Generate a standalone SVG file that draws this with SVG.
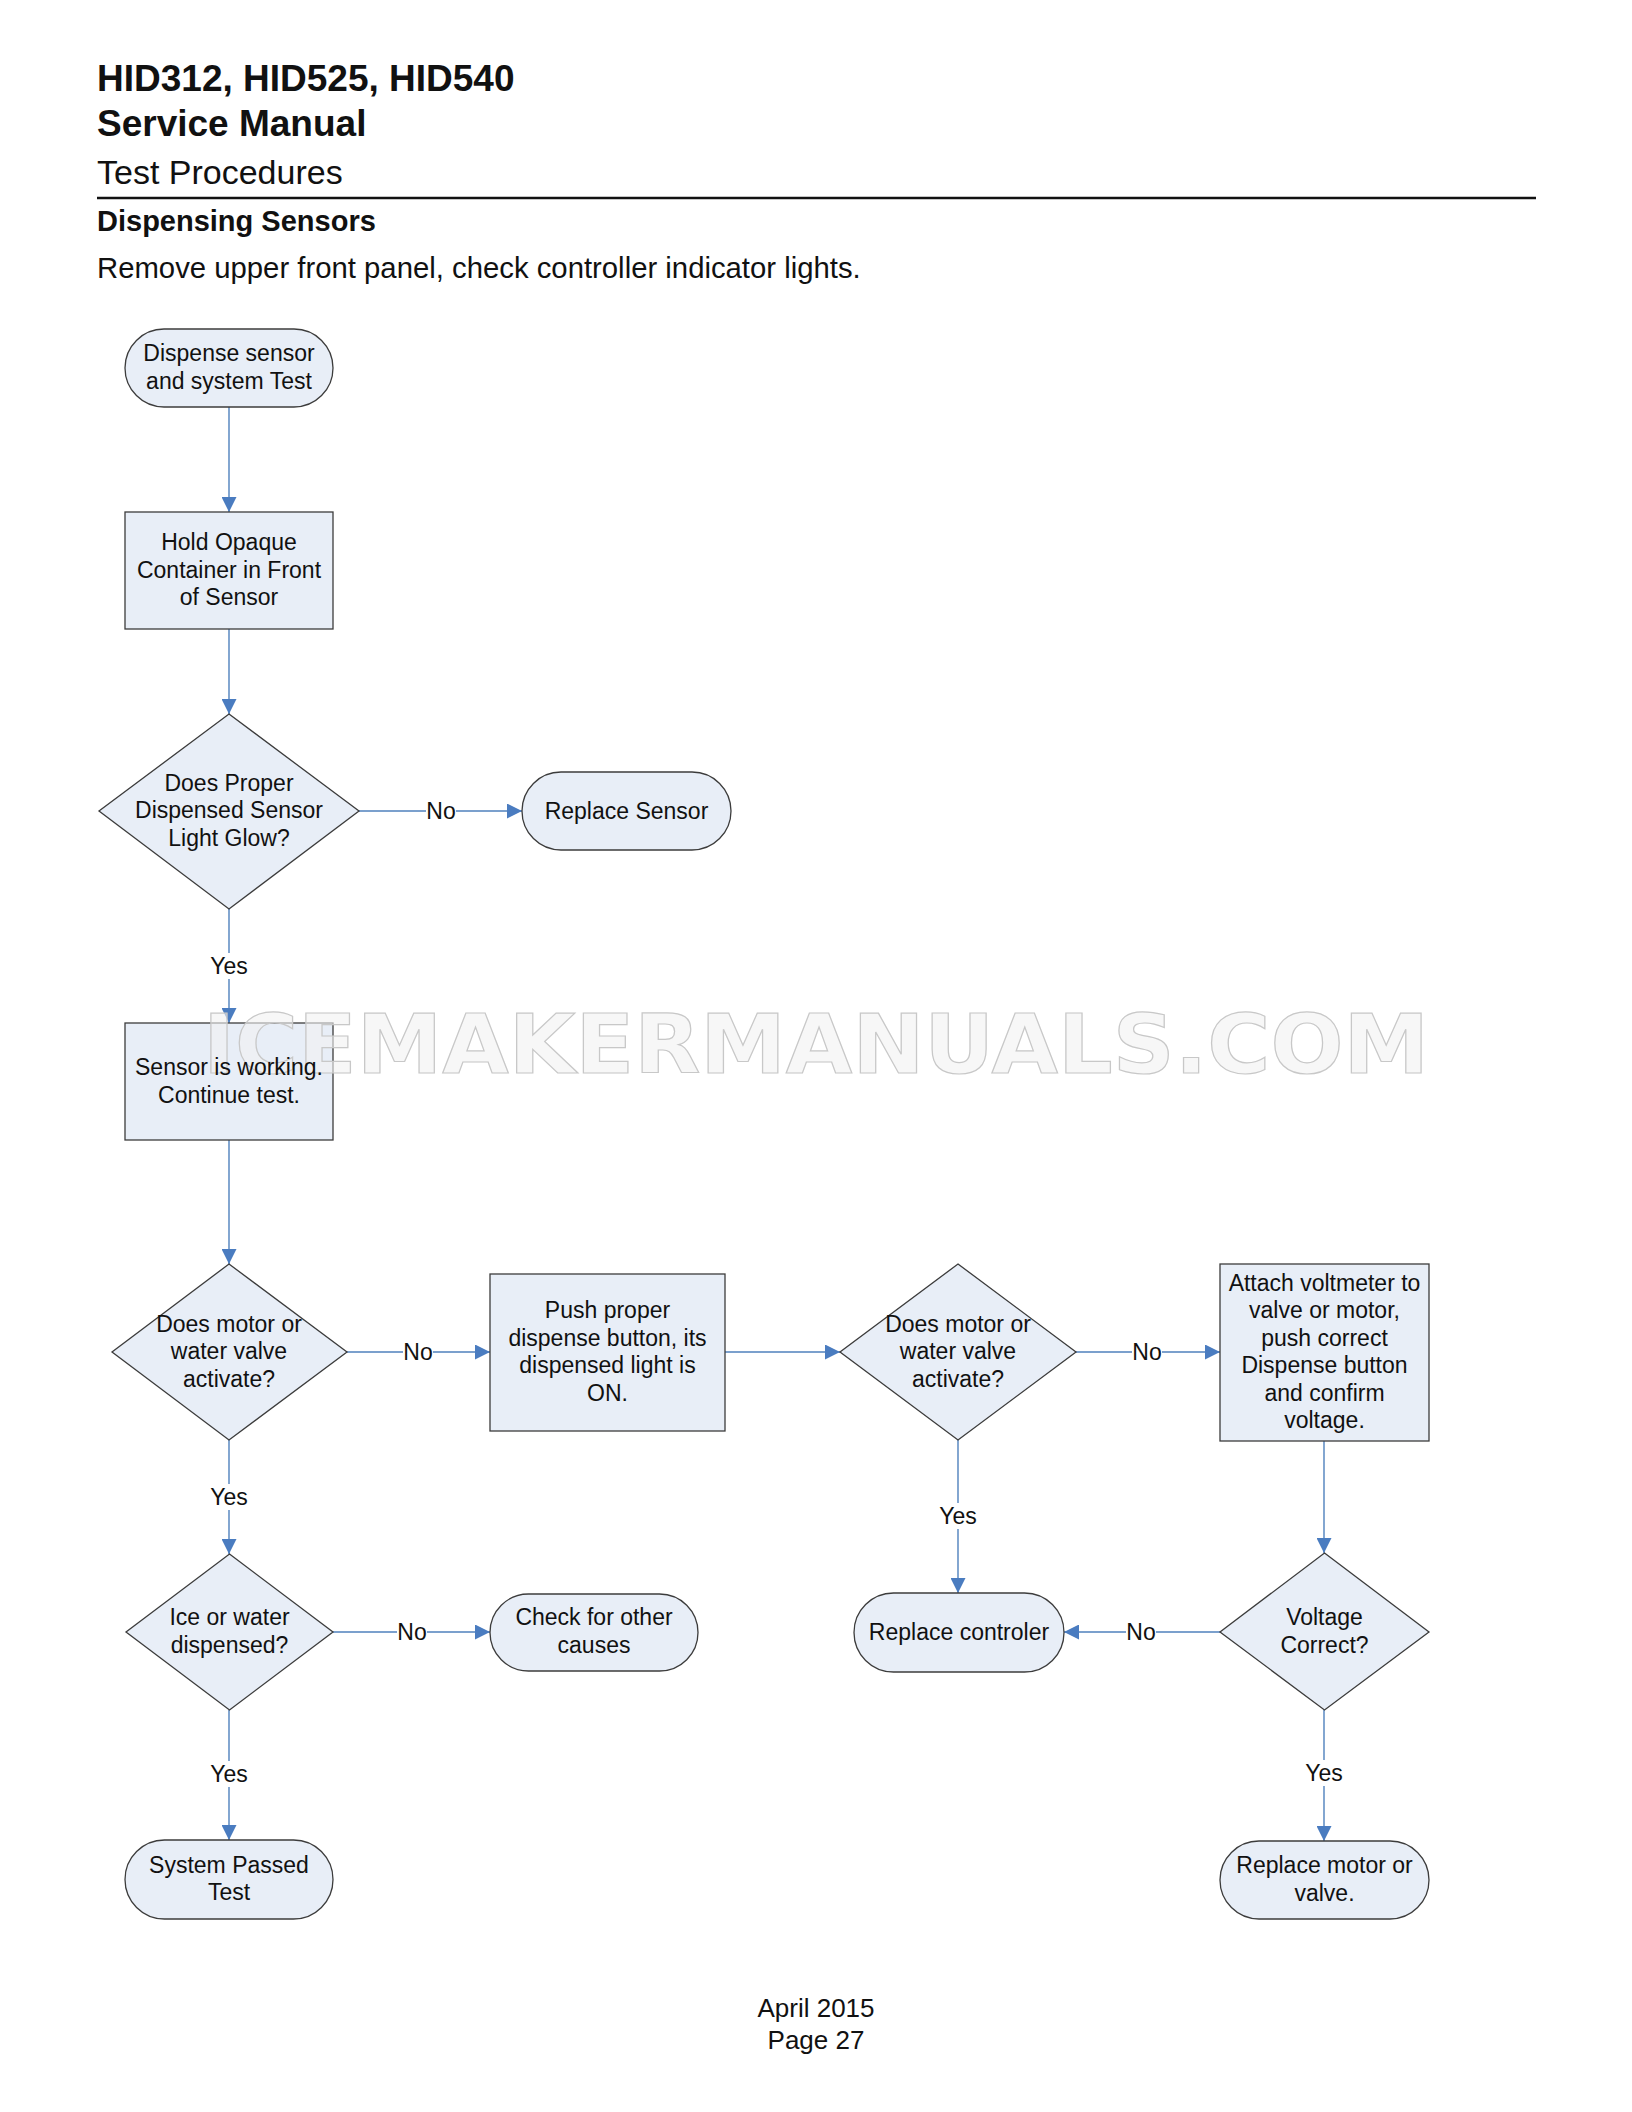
<svg xmlns="http://www.w3.org/2000/svg" width="1632" height="2112" viewBox="0 0 1632 2112">
<style>
.hdr{font-family:"Liberation Sans",Arial,sans-serif;fill:#111}
.b{font-weight:bold}
.node{fill:#e8eef7;stroke:#3c3c3c;stroke-width:1.3}
.t{font-family:"Liberation Sans",Arial,sans-serif;font-size:23px;fill:#111;text-anchor:middle}
.conn{stroke:#4f81bd;stroke-width:1.4;fill:none}
.lblbg{fill:#fff}
</style>
<defs>
<marker id="arr" markerUnits="userSpaceOnUse" markerWidth="16" markerHeight="15" refX="15" refY="7.5" orient="auto">
<path d="M0,0 L15,7.5 L0,15 z" fill="#4a7cc0"/>
</marker>
</defs>
<rect width="1632" height="2112" fill="#fff"/>
<g id="header">
<text class="hdr b" x="97" y="91" font-size="37">HID312, HID525, HID540</text>
<text class="hdr b" x="97" y="136" font-size="37">Service Manual</text>
<text class="hdr" x="97" y="184" font-size="34">Test Procedures</text>
<line x1="97" y1="198" x2="1536" y2="198" stroke="#111" stroke-width="2.5"/>
<text class="hdr b" x="97" y="231" font-size="29">Dispensing Sensors</text>
<text class="hdr" x="97" y="278" font-size="29.3">Remove upper front panel, check controller indicator lights.</text>
</g>
<g id="connectors">
<line class="conn" x1="229" y1="407" x2="229" y2="512" marker-end="url(#arr)"/>
<line class="conn" x1="229" y1="629" x2="229" y2="714" marker-end="url(#arr)"/>
<line class="conn" x1="359" y1="811" x2="522" y2="811" marker-end="url(#arr)"/>
<line class="conn" x1="229" y1="909" x2="229" y2="1023" marker-end="url(#arr)"/>
<line class="conn" x1="229" y1="1140" x2="229" y2="1264" marker-end="url(#arr)"/>
<line class="conn" x1="347" y1="1352" x2="490" y2="1352" marker-end="url(#arr)"/>
<line class="conn" x1="725" y1="1352" x2="840" y2="1352" marker-end="url(#arr)"/>
<line class="conn" x1="1076" y1="1352" x2="1220" y2="1352" marker-end="url(#arr)"/>
<line class="conn" x1="229" y1="1440" x2="229" y2="1554" marker-end="url(#arr)"/>
<line class="conn" x1="958" y1="1440" x2="958" y2="1593" marker-end="url(#arr)"/>
<line class="conn" x1="1324" y1="1441" x2="1324" y2="1553" marker-end="url(#arr)"/>
<line class="conn" x1="333" y1="1632" x2="490" y2="1632" marker-end="url(#arr)"/>
<line class="conn" x1="1220" y1="1632" x2="1064" y2="1632" marker-end="url(#arr)"/>
<line class="conn" x1="229" y1="1710" x2="229" y2="1840" marker-end="url(#arr)"/>
<line class="conn" x1="1324" y1="1710" x2="1324" y2="1841" marker-end="url(#arr)"/>
<g id="labels">
<rect class="lblbg" x="426" y="798" width="30" height="26"/><text class="t" x="441" y="819">No</text>
<rect class="lblbg" x="211" y="953" width="36" height="26"/><text class="t" x="229" y="974">Yes</text>
<rect class="lblbg" x="403" y="1339" width="30" height="26"/><text class="t" x="418" y="1360">No</text>
<rect class="lblbg" x="1132" y="1339" width="30" height="26"/><text class="t" x="1147" y="1360">No</text>
<rect class="lblbg" x="211" y="1484" width="36" height="26"/><text class="t" x="229" y="1505">Yes</text>
<rect class="lblbg" x="940" y="1503" width="36" height="26"/><text class="t" x="958" y="1524">Yes</text>
<rect class="lblbg" x="397" y="1619" width="30" height="26"/><text class="t" x="412" y="1640">No</text>
<rect class="lblbg" x="1126" y="1619" width="30" height="26"/><text class="t" x="1141" y="1640">No</text>
<rect class="lblbg" x="211" y="1761" width="36" height="26"/><text class="t" x="229" y="1782">Yes</text>
<rect class="lblbg" x="1306" y="1760" width="36" height="26"/><text class="t" x="1324" y="1781">Yes</text>
</g>
</g>
<g id="start">
<rect class="node" x="125" y="329" width="208" height="78" rx="39"/>
<text class="t" x="229" y="361">Dispense sensor</text>
<text class="t" x="229" y="388.5">and system Test</text>
</g>
<g id="hold">
<rect class="node" x="125" y="512" width="208" height="117"/>
<text class="t" x="229" y="550">Hold Opaque</text>
<text class="t" x="229" y="577.5">Container in Front</text>
<text class="t" x="229" y="605">of Sensor</text>
</g>
<g id="d1">
<polygon class="node" points="229,714 359,811 229,909 99,811"/>
<text class="t" x="229" y="790.5">Does Proper</text>
<text class="t" x="229" y="818">Dispensed Sensor</text>
<text class="t" x="229" y="845.5">Light Glow?</text>
</g>
<g id="replace-sensor">
<rect class="node" x="522" y="772" width="209" height="78" rx="39"/>
<text class="t" x="626.5" y="818.5">Replace Sensor</text>
</g>
<g id="working">
<rect class="node" x="125" y="1023" width="208" height="117"/>
</g>
<g id="watermark">
<text x="203" y="1073" font-family="'DejaVu Sans',sans-serif" font-weight="bold" font-size="82" textLength="1226" lengthAdjust="spacingAndGlyphs" fill="#f1f1f1" fill-opacity="0.6" stroke="#c8c8c8" stroke-width="1.2">ICEMAKERMANUALS.COM</text>
</g>
<g id="working-text">
<text class="t" x="229" y="1075">Sensor is working.</text>
<text class="t" x="229" y="1102.5">Continue test.</text>
</g>
<g id="d-left">
<polygon class="node" points="229,1264 347,1352 229,1440 112,1352"/>
<text class="t" x="229" y="1331.5">Does motor or</text>
<text class="t" x="229" y="1359">water valve</text>
<text class="t" x="229" y="1386.5">activate?</text>
</g>
<g id="push">
<rect class="node" x="490" y="1274" width="235" height="157"/>
<text class="t" x="607.5" y="1318">Push proper</text>
<text class="t" x="607.5" y="1345.5">dispense button, its</text>
<text class="t" x="607.5" y="1373">dispensed light is</text>
<text class="t" x="607.5" y="1400.5">ON.</text>
</g>
<g id="d-mid">
<polygon class="node" points="958,1264 1076,1352 958,1440 840,1352"/>
<text class="t" x="958" y="1331.5">Does motor or</text>
<text class="t" x="958" y="1359">water valve</text>
<text class="t" x="958" y="1386.5">activate?</text>
</g>
<g id="attach">
<rect class="node" x="1220" y="1264" width="209" height="177"/>
<text class="t" x="1324.5" y="1290.5">Attach voltmeter to</text>
<text class="t" x="1324.5" y="1318">valve or motor,</text>
<text class="t" x="1324.5" y="1345.5">push correct</text>
<text class="t" x="1324.5" y="1373">Dispense button</text>
<text class="t" x="1324.5" y="1400.5">and confirm</text>
<text class="t" x="1324.5" y="1428">voltage.</text>
</g>
<g id="ice">
<polygon class="node" points="229.5,1554 333,1632 229.5,1710 126,1632"/>
<text class="t" x="229.5" y="1625">Ice or water</text>
<text class="t" x="229.5" y="1652.5">dispensed?</text>
</g>
<g id="check">
<rect class="node" x="490" y="1594" width="208" height="77" rx="38.5"/>
<text class="t" x="594" y="1625">Check for other</text>
<text class="t" x="594" y="1652.5">causes</text>
</g>
<g id="replace-controller">
<rect class="node" x="854" y="1593" width="210" height="79" rx="39.5"/>
<text class="t" x="959" y="1640">Replace controler</text>
</g>
<g id="voltage">
<polygon class="node" points="1324.5,1553 1429,1632 1324.5,1710 1220,1632"/>
<text class="t" x="1324.5" y="1625">Voltage</text>
<text class="t" x="1324.5" y="1652.5">Correct?</text>
</g>
<g id="passed">
<rect class="node" x="125" y="1840" width="208" height="79" rx="39.5"/>
<text class="t" x="229" y="1872.5">System Passed</text>
<text class="t" x="229" y="1900">Test</text>
</g>
<g id="replace-motor">
<rect class="node" x="1220" y="1841" width="209" height="78" rx="39"/>
<text class="t" x="1324.5" y="1873">Replace motor or</text>
<text class="t" x="1324.5" y="1900.5">valve.</text>
</g>
<g id="footer">
<text class="hdr" x="816" y="2017" font-size="26" text-anchor="middle">April 2015</text>
<text class="hdr" x="816" y="2049" font-size="26" text-anchor="middle">Page 27</text>
</g>
</svg>
